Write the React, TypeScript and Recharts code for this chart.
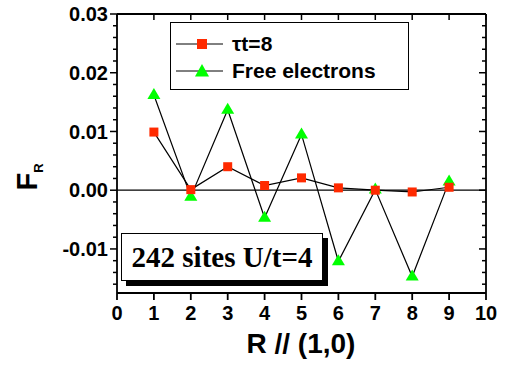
import React from 'react';
import { LineChart, Line, XAxis, YAxis, ReferenceLine } from 'recharts';

const rValues = [1, 2, 3, 4, 5, 6, 7, 8, 9];
const tau8 = [0.0099, 0.0001, 0.004, 0.0008, 0.0021, 0.0004, 0.0, -0.0003, 0.0005];
const freeElectrons = [0.0162, -0.0011, 0.0137, -0.0047, 0.0095, -0.0121, 0.0001, -0.0147, 0.0015];
const seriesNames = ['τt=8', 'Free electrons'];

const xTicks = [0, 1, 2, 3, 4, 5, 6, 7, 8, 9, 10];
const yTicks = [-0.016, -0.014, -0.012, -0.01, -0.008, -0.006, -0.004, -0.002, 0, 0.002, 0.004, 0.006, 0.008, 0.01, 0.012, 0.014, 0.016, 0.018, 0.02, 0.022, 0.024, 0.026, 0.028, 0.03];
const yMajor = [-0.01, 0, 0.01, 0.02, 0.03];

const data = rValues.map((r, i) => ({ r, tau: tau8[i], free: freeElectrons[i] }));

const SANS = '"Liberation Sans", Arial, sans-serif';
const RED = '#ff2a00';
const GREEN = '#00ff00';
const TS = 7;
const TM = 2;

const W = 510;
const H = 370;
const MARGIN = { top: 4, right: 14, bottom: 47, left: 57 };
const TOP_H = 10;
const RIGHT_W = 10;
const PLOT_TOP = MARGIN.top + TOP_H;
const PLOT_RIGHT = W - MARGIN.right - RIGHT_W;

const isMajor = (v: number) => yMajor.some(m => Math.abs(m - v) < 1e-9);

// left axis ticks (outward, with labels) plus the mirrored inward ticks on the right frame
const LeftTick = (props: any) => {
  const { x, y, payload } = props;
  const v = payload.value;
  const major = isMajor(v);
  const ax = x + TS + TM;
  const len = major ? 7 : 4;
  return (
    <g>
      <line x1={ax - len} x2={ax} y1={y} y2={y} stroke="#000" strokeWidth={1.5} />
      <line x1={PLOT_RIGHT - len} x2={PLOT_RIGHT} y1={y} y2={y} stroke="#000" strokeWidth={1.5} />
      {major && (
        <text x={ax - 9} y={y} dy="0.36em" textAnchor="end" fontFamily={SANS} fontWeight="bold" fontSize={20} fill="#000">
          {v.toFixed(2)}
        </text>
      )}
    </g>
  );
};

// bottom axis labels plus the inward ticks on the top frame
const BottomTick = (props: any) => {
  const { x, y, payload } = props;
  return (
    <g>
      <line x1={x} x2={x} y1={PLOT_TOP} y2={PLOT_TOP + 6} stroke="#000" strokeWidth={1.5} />
      <text x={x} y={y} dy="0.71em" textAnchor="middle" fontFamily={SANS} fontWeight="bold" fontSize={20} fill="#000">
        {payload.value}
      </text>
    </g>
  );
};

const Square = (props: any) => {
  const { cx, cy } = props;
  if (cx == null || cy == null) return null;
  return <rect x={cx - 4.5} y={cy - 4.5} width={9} height={9} fill={RED} />;
};

const Triangle = (props: any) => {
  const { cx, cy } = props;
  if (cx == null || cy == null) return null;
  return <path d={`M${cx},${cy - 7} L${cx + 6.5},${cy + 4} L${cx - 6.5},${cy + 4} Z`} fill={GREEN} />;
};

function LegendBox() {
  return (
    <div style={{ position: 'absolute', left: 170, top: 22, width: 239, height: 68, border: '1.5px solid #000', background: '#fff', boxSizing: 'border-box', fontFamily: SANS, fontWeight: 'bold', fontSize: 21, color: '#000', paddingTop: 7 }}>
      {seriesNames.map((name, i) => (
        <div key={name} style={{ display: 'flex', alignItems: 'center', height: 27 }}>
          <svg width={61} height={20} style={{ flex: 'none' }}>
            <line x1={5} x2={52} y1={10} y2={10} stroke="#000" strokeWidth={1} />
            {i === 0 ? (
              <rect x={26} y={5} width={10} height={10} fill={RED} />
            ) : (
              <path d="M31,3 L38,15.5 L24,15.5 Z" fill={GREEN} />
            )}
          </svg>
          <span style={{ lineHeight: '20px' }}>{name}</span>
        </div>
      ))}
    </div>
  );
}

export default function App() {
  return (
    <div style={{ position: 'absolute', left: 0, top: 0, width: W, height: H, background: '#fff' }}>
      <LineChart width={W} height={H} data={data} margin={MARGIN}>
        <XAxis
          xAxisId="b"
          dataKey="r"
          type="number"
          domain={[0, 10]}
          ticks={xTicks}
          interval={0}
          height={30}
          tickSize={7}
          tickMargin={6}
          stroke="#000"
          strokeWidth={1.8}
          tick={<BottomTick />}
          label={{
            content: () => (
              <text x={301} y={353} textAnchor="middle" fontFamily={SANS} fontWeight="bold" fontSize={28} fill="#000">
                R // (1,0)
              </text>
            ),
          }}
        />
        <XAxis xAxisId="t" dataKey="r" type="number" domain={[0, 10]} orientation="top" height={TOP_H} tickLine={false} tick={false} stroke="#000" strokeWidth={1.8} />
        <YAxis
          yAxisId="l"
          type="number"
          domain={[-0.0175, 0.03]}
          ticks={yTicks}
          interval={0}
          width={60}
          tickSize={TS}
          tickMargin={TM}
          tickLine={false}
          stroke="#000"
          strokeWidth={1.8}
          tick={<LeftTick />}
          label={{
            content: () => (
              <text transform="translate(37,177) rotate(-90)" textAnchor="middle" fontFamily={SANS} fontWeight="bold" fontSize={29} fill="#000">
                F<tspan fontSize={13} dy={6}>R</tspan>
              </text>
            ),
          }}
        />
        <YAxis yAxisId="r" orientation="right" type="number" domain={[-0.0175, 0.03]} width={RIGHT_W} tickLine={false} tick={false} stroke="#000" strokeWidth={1.8} />
        <ReferenceLine xAxisId="b" yAxisId="l" y={0} stroke="#000" strokeWidth={1.2} />
        <Line xAxisId="t" yAxisId="r" name={seriesNames[1]} dataKey="free" stroke="#000" strokeWidth={1.2} dot={<Triangle />} activeDot={false} isAnimationActive={false} type="linear" />
        <Line xAxisId="b" yAxisId="l" name={seriesNames[0]} dataKey="tau" stroke="#000" strokeWidth={1.2} dot={<Square />} activeDot={false} isAnimationActive={false} type="linear" />
      </LineChart>
      <LegendBox />
      <div style={{ position: 'absolute', left: 121, top: 233, width: 202, height: 48, boxSizing: 'border-box', border: '1.5px solid #000', background: '#fff', boxShadow: '5px 5px 0 #000', fontFamily: '"Liberation Serif", "Times New Roman", serif', fontWeight: 'bold', fontSize: 29, color: '#000', display: 'flex', alignItems: 'center', justifyContent: 'center', whiteSpace: 'nowrap' }}>
        242 sites U/t=4
      </div>
    </div>
  );
}
